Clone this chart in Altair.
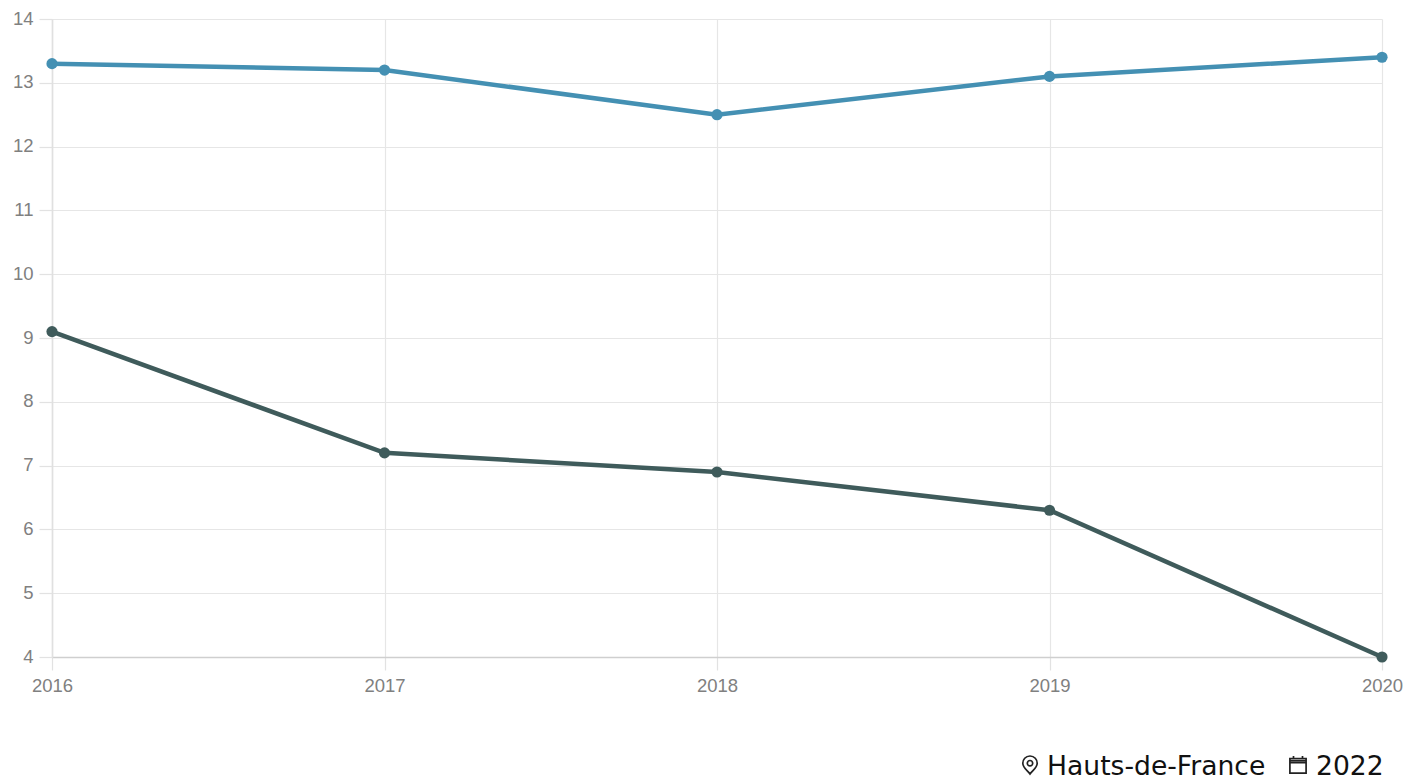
import altair as alt
import pandas as pd

years = ["2016", "2017", "2018", "2019", "2020"]
upper = [13.3, 13.2, 12.5, 13.1, 13.4]
lower = [9.1, 7.2, 6.9, 6.3, 4.0]
colors = ["#4490B3", "#3F5B5B"]
series_names = ["a", "b"]
footer_texts = ["Hauts-de-France", "2022"]
footer_x = [995, 1264]
icon_x = [978, 1246]
PIN = "M0,-1 C-0.5,-1 -0.8,-0.6 -0.8,-0.2 C-0.8,0.3 -0.3,0.6 0,1 C0.3,0.6 0.8,0.3 0.8,-0.2 C0.8,-0.6 0.5,-1 0,-1 Z M0,-0.5 A0.3,0.3 0 1 1 0,0.1 A0.3,0.3 0 1 1 0,-0.5 Z"
CAL = "M-0.9,-0.7 H0.9 V0.9 H-0.9 Z M-0.9,-0.45 H0.9 M-0.9,-0.25 H0.9 M-0.5,-1 V-0.7 M0.5,-1 V-0.7"
icon_shapes = [PIN, CAL]

df = pd.DataFrame({
    "year": years * 2,
    "value": upper + lower,
    "series": [series_names[0]] * 5 + [series_names[1]] * 5,
})

x = alt.X("year:O", title=None, scale=alt.Scale(type="point", padding=0),
          axis=alt.Axis(labelAngle=0, labelFont="Liberation Sans", labelFontSize=18.5,
                        labelColor="#808080", labelPadding=6, tickSize=13, tickWidth=1.2,
                        tickColor="#e2e2e2", domainColor="#cfcfcf", domainWidth=1.6,
                        gridColor="#e6e6e6", gridWidth=1.2, grid=True, labelOverlap=False))
y = alt.Y("value:Q", title=None, scale=alt.Scale(domain=[4, 14], nice=False),
          axis=alt.Axis(values=list(range(4, 15)), labelFont="Liberation Sans", labelFontSize=18.5,
                        labelColor="#808080", labelPadding=6, labelOffset=-1, tickSize=13, tickWidth=1.2,
                        tickColor="#e2e2e2", domainColor="#e0e0e0", domainWidth=1.6,
                        gridColor="#e6e6e6", gridWidth=1.2, grid=True, format="d"))
color = alt.Color("series:N", legend=None, scale=alt.Scale(domain=series_names, range=colors))

lines = alt.Chart(df).mark_line(strokeWidth=4.5).encode(x=x, y=y, color=color)
points = alt.Chart(df).mark_point(filled=True, size=125, opacity=1).encode(x=x, y=y, color=color)

layers = [lines, points]
for label, tx, ix, shape in zip(footer_texts, footer_x, icon_x, icon_shapes):
    item = pd.DataFrame({"t": [label], "shape": [shape]})
    layers.append(
        alt.Chart(item).mark_text(font="DejaVu Sans", fontSize=26.6, align="left", baseline="alphabetic",
                                  color="#111111").encode(
            x=alt.value(tx), y=alt.value(756), text="t:N"))
    layers.append(
        alt.Chart(item).mark_point(filled=False, size=324, color="#222222", strokeWidth=1.7, opacity=1).encode(
            x=alt.value(ix), y=alt.value(746), shape=alt.Shape("shape:N", scale=None)))

chart = alt.layer(*layers).properties(
    width=1330, height=638,
    autosize=alt.AutoSizeParams(type="none"),
    padding={"left": 44, "top": 11, "right": 31, "bottom": 127},
).configure_view(stroke=None)

chart.save("out.html", embed_options={"renderer": "svg", "actions": False})
